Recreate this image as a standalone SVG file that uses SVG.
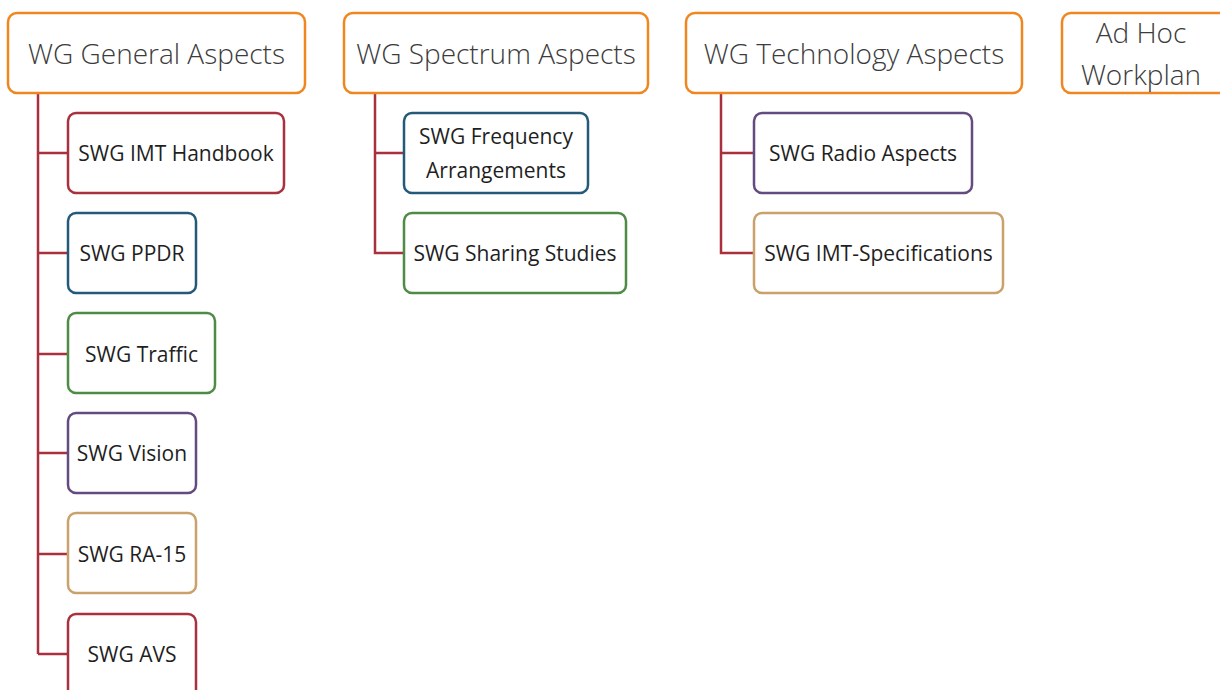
<svg xmlns="http://www.w3.org/2000/svg" width="1220" height="690" viewBox="0 0 1220 690">
  <style>
    .wg { fill: #ffffff; stroke: #F0861F; stroke-width: 2.5; }
    .swg { fill: #ffffff; stroke-width: 2.5; }
    .red { stroke: #A8303F; }
    .blue { stroke: #24597A; }
    .green { stroke: #4E8B45; }
    .purple { stroke: #634A80; }
    .tan { stroke: #C9A16B; }
    .title { font-family: "Open Sans", "Noto Sans", sans-serif; font-size: 28px; font-weight: 300; fill: #3c3c3c; text-anchor: middle; }
    .label { font-family: "Open Sans", "Noto Sans", sans-serif; font-size: 21px; fill: #1f1f1f; text-anchor: middle; }
    .conn { fill: none; stroke: #A8303F; stroke-width: 2.5; }
  </style>

  <!-- tree connectors -->
  <g id="connectors">
    <path class="conn" d="M38,93 V654 M38,153 H68 M38,253 H68 M38,354 H68 M38,453 H68 M38,554 H68 M38,654 H68"/>
    <path class="conn" d="M375,93 V253 H404 M375,153 H404"/>
    <path class="conn" d="M721,93 V253 H754 M721,153 H754"/>
  </g>

  <!-- working groups -->
  <g id="wg-general">
    <rect class="wg" x="8" y="13" width="297" height="80" rx="9"/>
    <text class="title" x="156.5" y="64">WG General Aspects</text>
  </g>
  <g id="wg-spectrum">
    <rect class="wg" x="344" y="13" width="304" height="80" rx="9"/>
    <text class="title" x="496" y="64">WG Spectrum Aspects</text>
  </g>
  <g id="wg-technology">
    <rect class="wg" x="686" y="13" width="336" height="80" rx="9"/>
    <text class="title" x="854" y="64">WG Technology Aspects</text>
  </g>
  <g id="adhoc-workplan">
    <rect class="wg" x="1062" y="13" width="170" height="80" rx="9"/>
    <text class="title" x="1141" y="43">Ad Hoc</text>
    <text class="title" x="1141" y="85">Workplan</text>
  </g>

  <!-- general aspects sub-groups -->
  <g id="swg-imt-handbook">
    <rect class="swg red" x="68" y="113" width="216" height="80" rx="8"/>
    <text class="label" x="176" y="161">SWG IMT Handbook</text>
  </g>
  <g id="swg-ppdr">
    <rect class="swg blue" x="68" y="213" width="128" height="80" rx="8"/>
    <text class="label" x="132" y="261">SWG PPDR</text>
  </g>
  <g id="swg-traffic">
    <rect class="swg green" x="68" y="313" width="147" height="80" rx="8"/>
    <text class="label" x="141.5" y="362">SWG Traffic</text>
  </g>
  <g id="swg-vision">
    <rect class="swg purple" x="68" y="413" width="128" height="80" rx="8"/>
    <text class="label" x="132" y="461">SWG Vision</text>
  </g>
  <g id="swg-ra15">
    <rect class="swg tan" x="68" y="513" width="128" height="80" rx="8"/>
    <text class="label" x="132" y="562">SWG RA-15</text>
  </g>
  <g id="swg-avs">
    <rect class="swg red" x="68" y="614" width="128" height="90" rx="8"/>
    <text class="label" x="132" y="662">SWG AVS</text>
  </g>

  <!-- spectrum aspects sub-groups -->
  <g id="swg-frequency-arrangements">
    <rect class="swg blue" x="404" y="113" width="184" height="80" rx="8"/>
    <text class="label" x="496" y="144">SWG Frequency</text>
    <text class="label" x="496" y="178">Arrangements</text>
  </g>
  <g id="swg-sharing-studies">
    <rect class="swg green" x="404" y="213" width="222" height="80" rx="8"/>
    <text class="label" x="515" y="261">SWG Sharing Studies</text>
  </g>

  <!-- technology aspects sub-groups -->
  <g id="swg-radio-aspects">
    <rect class="swg purple" x="754" y="113" width="218" height="80" rx="8"/>
    <text class="label" x="863" y="161">SWG Radio Aspects</text>
  </g>
  <g id="swg-imt-specifications">
    <rect class="swg tan" x="754" y="213" width="249" height="80" rx="8"/>
    <text class="label" x="878.5" y="261">SWG IMT-Specifications</text>
  </g>
</svg>
